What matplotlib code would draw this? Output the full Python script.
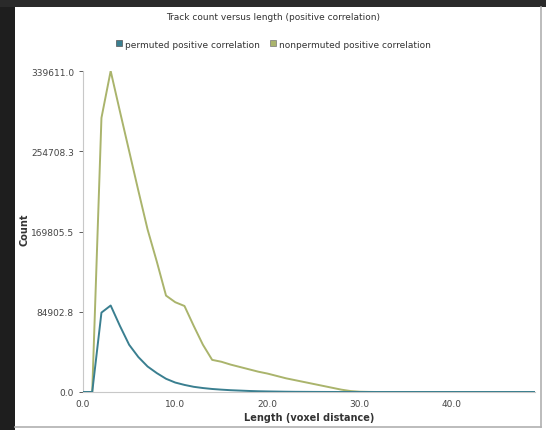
import matplotlib
matplotlib.use("Agg")
import matplotlib.pyplot as plt
from matplotlib.lines import Line2D
from matplotlib.patches import Rectangle

# ---------------------------------------------------------------------------
# Data (one bin per unit of length)
# ---------------------------------------------------------------------------
LENGTH = list(range(0, 50))

NONPERMUTED = [
    0, 0, 290000, 339611, 297000, 255000, 213000, 172000, 138000, 102000,
    95000, 91000, 70000, 50000, 34000, 32000, 29000, 26500, 24000, 21500,
    19500, 17000, 14500, 12500, 10500, 8500, 6500, 4500, 2500, 1000,
    300, 100, 0, 0, 0, 0, 0, 0, 0, 0,
    0, 0, 0, 0, 0, 0, 0, 0, 0, 0,
]

PERMUTED = [
    0, 0, 84000, 91500, 70000, 50000, 37000, 27000, 20000, 14000,
    10000, 7500, 5500, 4200, 3200, 2500, 1900, 1500, 1100, 800,
    600, 450, 300, 200, 150, 100, 60, 30, 10, 0,
    0, 0, 0, 0, 0, 0, 0, 0, 0, 0,
    0, 0, 0, 0, 0, 0, 0, 0, 0, 0,
]

Y_TICKS = [0.0, 84902.8, 169805.5, 254708.3, 339611.0]
X_TICKS = [0, 10, 20, 30, 40]

BLUE = "#3a7f90"
GREEN = "#aab46c"

# ---------------------------------------------------------------------------
# Figure
# ---------------------------------------------------------------------------
plt.rcParams["font.family"] = "DejaVu Sans"

W, H = 546, 431
fig = plt.figure(figsize=(W / 100, H / 100), dpi=100)
fig.patch.set_facecolor("white")

# dark window frame on the left and top, thin grey edge right / bottom
fig.add_artist(Rectangle((0, 0), 15 / W, 1, transform=fig.transFigure,
                         facecolor="#1e1e1e", edgecolor="none", zorder=0))
fig.add_artist(Rectangle((0, 1 - 8 / H), 1, 8 / H, transform=fig.transFigure,
                         facecolor="#2a2a2a", edgecolor="none", zorder=0))
fig.add_artist(Line2D([15 / W, 541 / W], [3 / H, 3 / H], transform=fig.transFigure,
                      color="#b0b0b0", lw=1.2))
fig.add_artist(Line2D([541 / W, 541 / W], [3 / H, 1 - 8 / H], transform=fig.transFigure,
                      color="#b0b0b0", lw=1.2))

ax = fig.add_axes([83 / W, 38 / H, (535 - 83) / W, (393 - 72) / H])

ax.plot(LENGTH, NONPERMUTED, color=GREEN, lw=1.4, zorder=3)
ax.plot(LENGTH, PERMUTED, color=BLUE, lw=1.4, zorder=4)

ax.set_xlim(0, 49)
ax.set_ylim(0, max(NONPERMUTED))
ax.set_yticks(Y_TICKS)
ax.set_yticklabels([f"{v:.1f}" for v in Y_TICKS])
ax.set_xticks(X_TICKS)
ax.set_xticklabels([f"{v:.1f}" for v in X_TICKS])
ax.tick_params(axis="both", labelsize=6.5, colors="#444444", length=3, width=0.6)
ax.tick_params(axis="x", length=0, pad=5)

for side in ("top", "right"):
    ax.spines[side].set_visible(False)
for side in ("left", "bottom"):
    ax.spines[side].set_color("#c8c8c8")
    ax.spines[side].set_linewidth(0.8)

ax.set_xlabel("Length (voxel distance)", fontsize=7, fontweight="bold",
              color="#333333", labelpad=3)
fig.text(25 / W, 1 - 230 / H, "Count", rotation=90, fontsize=7,
         fontweight="bold", color="#333333", ha="center", va="center")

fig.text(273 / W, 1 - 18 / H, "Track count versus length (positive correlation)",
         fontsize=6.5, color="#333333", ha="center", va="center")

handles = [
    Line2D([], [], marker="s", linestyle="none", markersize=5,
           markerfacecolor=BLUE, markeredgecolor="#555555", markeredgewidth=0.5),
    Line2D([], [], marker="s", linestyle="none", markersize=5,
           markerfacecolor=GREEN, markeredgecolor="#777777", markeredgewidth=0.5),
]
fig.legend(handles, ["permuted positive correlation", "nonpermuted positive correlation"],
           loc="center", bbox_to_anchor=(273 / W, 1 - 45 / H), ncol=2,
           frameon=False, fontsize=6.5, handlelength=0.8, handletextpad=0.3,
           columnspacing=1.0, labelcolor="#333333")

fig.savefig("out.png", dpi=100, facecolor="white")
